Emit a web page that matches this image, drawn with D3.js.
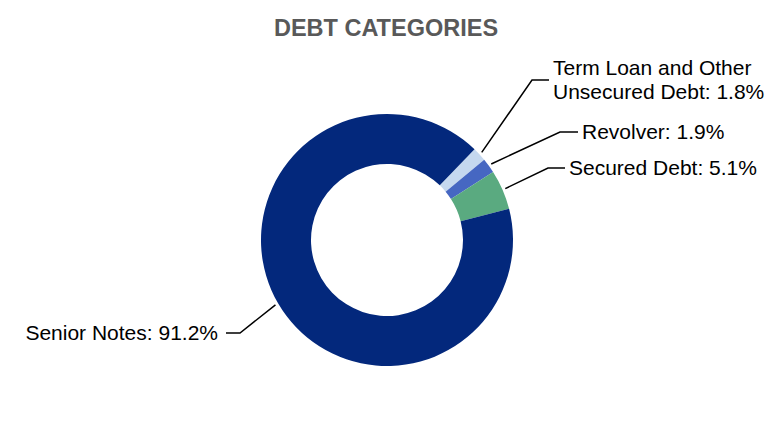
<!DOCTYPE html>
<html>
<head>
<meta charset="utf-8">
<script src="https://cdn.jsdelivr.net/npm/d3@7"></script>
<style>
  html, body { margin: 0; padding: 0; background: #fff; }
  svg { display: block; }
  text { font-family: "Liberation Sans", Arial, sans-serif; }
</style>
</head>
<body>
<svg id="chart" width="774" height="422"></svg>
<script>
// Data (clockwise order, starting at upper right)
const categories = ["Term Loan and Other Unsecured Debt", "Revolver", "Secured Debt", "Senior Notes"];
const values = [1.8, 1.9, 5.1, 91.2];
const colors = ["#c5d8ef", "#4667c2", "#5aaa80", "#03287c"];
// Label text lines
const labelLines = [
  ["Term Loan and Other", "Unsecured Debt: 1.8%"],
  ["Revolver: 1.9%"],
  ["Secured Debt: 5.1%"],
  ["Senior Notes: 91.2%"]
];

// Layout
const W = 774, H = 422;
const cx = 387, cy = 240, outerR = 126, innerR = 76;
const startDeg = 44;
// Label layout: elbow point and text anchor
const labelLayout = [
  { elbowX: 532, y: 80, side: "right", textX: 553 },
  { elbowX: 560, y: 132, side: "right", textX: 582 },
  { elbowX: 548, y: 168, side: "right", textX: 569 },
  { elbowX: 240, y: 333, side: "left", textX: 218 }
];

const svg = d3.select("#chart");

svg.append("text")
  .attr("x", 386).attr("y", 36)
  .attr("text-anchor", "middle")
  .attr("font-size", "23.5px")
  .attr("font-weight", "bold")
  .attr("fill", "#595959")
  .text("DEBT CATEGORIES");

const start = startDeg * Math.PI / 180;
const pie = d3.pie().sort(null).value(d => d).startAngle(start).endAngle(start + 2 * Math.PI);
const arcs = pie(values);
const arc = d3.arc().innerRadius(innerR).outerRadius(outerR);

const g = svg.append("g").attr("transform", `translate(${cx},${cy})`);
g.selectAll("path.slice").data(arcs).enter().append("path")
  .attr("class", "slice")
  .attr("d", arc)
  .attr("fill", (d, i) => colors[i]);

// Leader lines and labels
arcs.forEach((a, i) => {
  const mid = (a.startAngle + a.endAngle) / 2;
  const r0 = outerR + 3;
  const x0 = cx + r0 * Math.sin(mid);
  const y0 = cy - r0 * Math.cos(mid);
  const L = labelLayout[i];
  const endX = L.side === "right" ? L.textX - 4 : L.textX + 8;
  svg.append("polyline")
    .attr("points", `${x0},${y0} ${L.elbowX},${L.y} ${endX},${L.y}`)
    .attr("fill", "none")
    .attr("stroke", "#000")
    .attr("stroke-width", 1.5);
  const lines = labelLines[i];
  const lh = 24;
  const t = svg.append("text")
    .attr("font-size", "21px")
    .attr("fill", "#000")
    .attr("text-anchor", L.side === "right" ? "start" : "end");
  lines.forEach((s, k) => {
    t.append("tspan")
      .attr("x", L.textX)
      .attr("y", L.y + 7 + (k - (lines.length - 1) / 2) * lh)
      .text(s);
  });
});
</script>
</body>
</html>
